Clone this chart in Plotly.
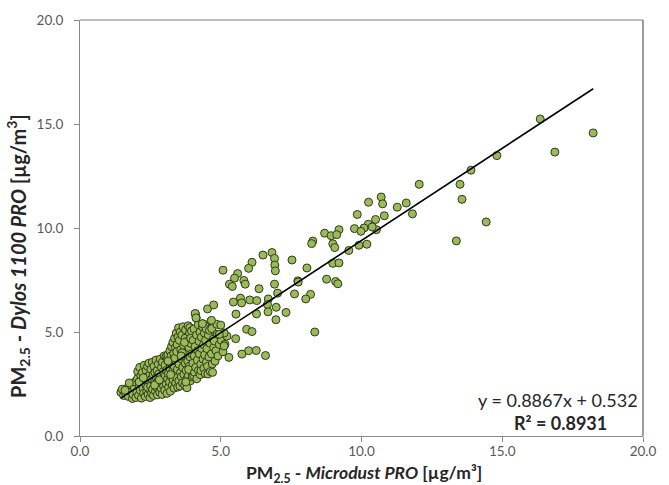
import plotly.graph_objects as go

# ---- data: PM2.5 Microdust PRO (x) vs Dylos 1100 PRO (y), µg/m³ ----
cluster_x = [
    1.45, 1.50, 1.55, 1.62, 1.68, 1.72, 1.78, 1.80, 1.86, 1.88, 1.92, 1.95, 1.98, 1.75, 1.60,
    2.02, 2.04, 2.05, 2.08, 2.10, 2.12, 2.14, 2.16, 2.18, 2.20, 2.22, 2.24, 2.26, 2.28, 2.30,
    2.32, 2.34, 2.35, 2.37, 2.38, 2.40, 2.42, 2.44, 2.45, 2.46, 2.48, 2.49, 2.10, 2.25, 2.40,
    2.51, 2.52, 2.54, 2.55, 2.57, 2.58, 2.60, 2.61, 2.63, 2.64, 2.66, 2.68, 2.70, 2.71, 2.72,
    2.74, 2.75, 2.77, 2.78, 2.80, 2.81, 2.83, 2.85, 2.86, 2.88, 2.89, 2.90, 2.92, 2.93, 2.95,
    2.96, 2.97, 2.99, 2.65, 2.82,
    3.01, 3.02, 3.03, 3.05, 3.06, 3.07, 3.09, 3.10, 3.11, 3.12, 3.14, 3.15, 3.16, 3.18, 3.19,
    3.20, 3.21, 3.23, 3.24, 3.25, 3.27, 3.28, 3.29, 3.30, 3.31, 3.33, 3.34, 3.35, 3.36, 3.38,
    3.39, 3.40, 3.41, 3.42, 3.44, 3.45, 3.46, 3.47, 3.48, 3.49, 3.50, 3.13, 3.22, 3.37, 3.44,
    3.51, 3.52, 3.53, 3.55, 3.56, 3.57, 3.58, 3.60, 3.61, 3.62, 3.64, 3.65, 3.66, 3.68, 3.69,
    3.70, 3.72, 3.73, 3.74, 3.75, 3.77, 3.78, 3.79, 3.80, 3.81, 3.83, 3.84, 3.85, 3.87, 3.88,
    3.89, 3.90, 3.91, 3.92, 3.94, 3.95, 3.96, 3.97, 3.99, 3.63, 3.71, 3.76, 3.86, 3.93, 3.59,
    4.01, 4.02, 4.04, 4.05, 4.06, 4.07, 4.09, 4.10, 4.11, 4.13, 4.14, 4.15, 4.17, 4.18, 4.20,
    4.21, 4.23, 4.24, 4.26, 4.27, 4.29, 4.30, 4.31, 4.33, 4.35, 4.36, 4.37, 4.39, 4.40, 4.42,
    4.43, 4.45, 4.46, 4.48, 4.49,
    4.51, 4.53, 4.54, 4.56, 4.58, 4.60, 4.62, 4.63, 4.65, 4.67, 4.68, 4.70, 4.71, 4.73, 4.75,
    4.77, 4.80, 4.83, 4.86, 4.88, 4.90, 4.95,
    5.02, 5.08, 5.15, 5.22, 5.29, 5.12,
]
cluster_y = [
    2.10, 2.25, 1.95, 2.05, 2.30, 1.90, 2.15, 2.45, 1.80, 2.00, 2.35, 2.60, 1.85, 2.55, 2.20,
    2.10, 2.75, 3.10, 1.95, 2.40, 3.30, 2.20, 2.90, 1.82, 2.55, 3.05, 2.30, 2.05, 3.40, 2.70,
    1.90, 2.45, 3.15, 2.15, 2.85, 3.35, 2.00, 2.60, 3.50, 2.25, 2.95, 1.85, 2.60, 2.80, 2.35,
    2.40, 3.20, 2.05, 2.75, 3.55, 2.25, 2.95, 1.95, 3.35, 2.55, 3.05, 2.15, 3.65, 2.80, 2.35,
    3.15, 1.98, 2.65, 3.45, 2.45, 3.00, 2.10, 3.70, 2.85, 2.30, 3.30, 2.60, 2.00, 3.55, 2.75,
    3.10, 2.40, 3.85, 2.45, 2.70,
    2.20, 3.40, 2.90, 3.80, 2.50, 3.15, 2.05, 3.70, 2.75, 3.90, 3.00, 2.35, 3.55, 2.60, 4.10,
    3.25, 2.15, 3.85, 2.85, 4.30, 3.45, 2.45, 3.10, 4.50, 2.70, 3.95, 2.30, 3.35, 4.70, 2.95,
    4.25, 2.55, 3.60, 4.95, 2.80, 4.40, 3.20, 2.35, 4.75, 3.80, 5.20, 3.60, 2.95, 3.75, 4.05,
    2.65, 3.45, 4.60, 2.40, 5.00, 3.05, 4.15, 2.85, 3.70, 4.85, 2.55, 3.30, 5.25, 4.35, 2.95,
    3.90, 2.45, 4.70, 3.50, 5.10, 3.15, 4.05, 2.75, 2.32, 4.55, 3.60, 5.30, 2.90, 4.25, 3.35,
    4.95, 5.21, 3.80, 2.65, 4.45, 3.10, 5.05, 3.95, 2.85, 4.00, 4.50, 2.60, 3.20, 4.70, 3.85,
    3.50, 4.60, 2.90, 5.15, 3.85, 3.06, 4.30, 5.87, 3.30, 5.68, 4.85, 2.75, 3.65, 4.10, 5.35,
    3.15, 4.55, 3.95, 5.00, 2.95, 3.45, 3.14, 4.75, 4.20, 5.25, 5.40, 3.70, 4.40, 3.25, 4.95,
    3.90, 3.00, 4.60, 5.15, 3.55,
    4.20, 3.35, 2.98, 4.85, 3.80, 5.08, 4.45, 3.10, 5.52, 3.95, 5.16, 3.46, 3.06, 4.65, 4.25,
    4.57, 3.60, 4.10, 5.37, 4.90, 3.85, 4.40,
    4.60, 4.05, 4.41, 4.80, 3.78, 4.95,
]
spread_x = [
    16.35, 18.23, 16.87, 14.81, 13.89, 12.05, 13.50, 13.57, 10.70, 10.75,
    11.27, 11.59, 11.81, 10.81, 14.43, 13.37, 10.50, 10.53, 10.25, 9.85,
    10.24, 10.09, 9.75, 9.98, 10.38, 9.20, 8.69, 8.92, 9.12, 8.27,
    8.23, 8.98, 9.05, 9.91, 10.19, 9.55, 8.98, 9.20, 8.06, 7.74,
    8.76, 9.08, 9.16, 8.19, 8.02, 6.50, 6.82, 6.91, 6.92, 6.94,
    6.11, 5.99, 7.53, 5.08, 5.60, 5.49, 5.31, 5.41, 5.82, 5.87,
    6.36, 6.91, 7.75, 7.02, 7.62, 5.45, 5.70, 5.74, 6.03, 6.28,
    6.69, 6.66, 6.97, 6.68, 7.32, 6.27, 5.54, 6.96, 5.92, 6.11,
    8.34, 5.53, 5.99, 6.26, 5.75, 6.59, 5.12, 4.95, 5.00, 4.53,
    4.75, 4.35, 4.67, 4.09, 4.12,
]
spread_y = [
    15.24, 14.57, 13.65, 13.48, 12.78, 12.10, 12.10, 11.38, 11.49, 11.16,
    11.00, 11.20, 10.68, 10.59, 10.29, 9.38, 10.41, 9.92, 11.24, 10.65,
    10.18, 10.00, 9.97, 9.84, 10.05, 9.92, 9.75, 9.63, 9.68, 9.37,
    9.25, 9.24, 9.06, 9.17, 9.22, 8.92, 8.30, 8.32, 8.08, 7.46,
    7.54, 7.43, 7.32, 6.81, 6.59, 8.70, 8.82, 8.54, 8.22, 7.94,
    8.35, 8.06, 8.46, 7.97, 7.81, 7.59, 7.30, 7.19, 7.48, 7.30,
    7.08, 7.30, 7.40, 6.87, 6.83, 6.44, 6.63, 6.40, 6.54, 6.51,
    6.59, 6.32, 6.19, 5.97, 5.94, 5.87, 5.86, 5.59, 5.13, 5.02,
    5.00, 4.68, 4.10, 4.11, 3.94, 3.87, 4.33, 4.89, 5.33, 6.11,
    6.30, 5.40, 5.56, 5.89, 5.68,
]
slope = 0.8867
intercept = 0.532
r_squared = 0.8931
tick_vals = [0, 5, 10, 15, 20]

x_all = cluster_x + spread_x
y_all = cluster_y + spread_y
x_line = [min(x_all), max(x_all)]
y_line = [slope * v + intercept for v in x_line]

FONT = "Lato"
TXT = "#262626"
fig = go.Figure()
fig.add_trace(go.Scatter(
    x=x_all, y=y_all, mode="markers",
    marker=dict(size=8, color="#9BBB59", line=dict(color="#2f3a1c", width=1)),
    showlegend=False, hoverinfo="skip"))
fig.add_trace(go.Scatter(
    x=x_line, y=y_line, mode="lines",
    line=dict(color="#000000", width=1.6), showlegend=False, hoverinfo="skip"))

axis_common = dict(
    range=[0, 20], tickvals=tick_vals, tickformat=".1f",
    showgrid=False, zeroline=False, showline=True, linecolor="#8a8a8a", linewidth=1,
    ticks="outside", ticklen=5, tickcolor="#8a8a8a",
    tickfont=dict(family=FONT, size=13.5, color="#595959"))
fig.update_xaxes(**axis_common, ticklabelstandoff=-2)
fig.update_yaxes(**axis_common, ticklabelstandoff=8)

fig.update_layout(
    width=669, height=485,
    margin=dict(l=80, r=16, t=16, b=49),
    paper_bgcolor="white", plot_bgcolor="white",
    font=dict(family=FONT),
    shapes=[
        dict(type="line", xref="paper", yref="paper", x0=0, x1=1, y0=1, y1=1,
             line=dict(color="#7f7f7f", width=1)),
        dict(type="line", xref="paper", yref="paper", x0=1, x1=1, y0=0, y1=1,
             line=dict(color="#595959", width=1.2)),
    ],
    annotations=[
        dict(text="<b>PM<sub>2.5</sub> - <i>Microdust PRO</i> [µg/m³]</b>",
             xref="paper", yref="paper", x=0.504, y=-0.092, yanchor="middle",
             showarrow=False, font=dict(family=FONT, size=17.5, color=TXT)),
        dict(text="<b>PM<sub>2.5</sub> - <i>Dylos 1100 PRO</i> [µg/m<sup>3</sup>]</b>",
             xref="paper", yref="paper", x=-0.11, y=0.433, textangle=-90,
             xanchor="center", yanchor="middle",
             showarrow=False, font=dict(family=FONT, size=20, color=TXT)),
        dict(text=f"y = {slope}x + {intercept}",
             xref="paper", yref="paper", x=0.995, y=0.086, xanchor="right", yanchor="middle",
             showarrow=False, font=dict(family=FONT, size=18, color=TXT)),
        dict(text=f"<b>R² = {r_squared}</b>",
             xref="paper", yref="paper", x=0.939, y=0.031, xanchor="right", yanchor="middle",
             showarrow=False, font=dict(family=FONT, size=18, color=TXT)),
    ],
)

fig.write_html("out.html")
